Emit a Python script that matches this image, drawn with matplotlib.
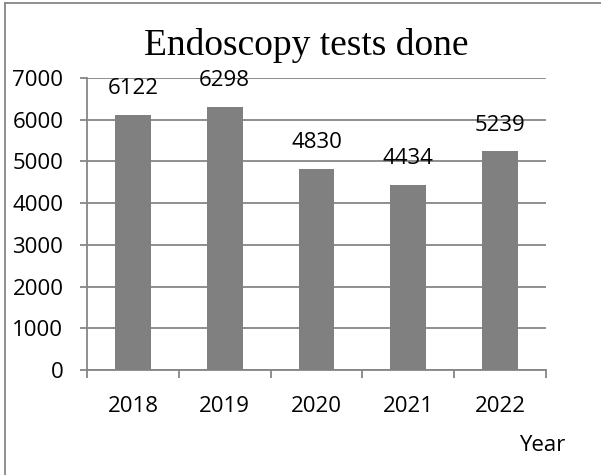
import numpy as np
import matplotlib.pyplot as plt
from matplotlib.lines import Line2D

years = ['2018', '2019', '2020', '2021', '2022']
tests = [6122, 6298, 4830, 4434, 5239]
yticks = [0, 1000, 2000, 3000, 4000, 5000, 6000, 7000]

grey = '#868686'
plt.rcParams['font.family'] = ['Open Sans', 'DejaVu Sans']

fig = plt.figure(figsize=(6.01, 4.75), dpi=100)
ax = fig.add_axes([0.1448, 0.2211, 0.7637, 0.6147])

x = np.arange(len(years))
ax.bar(x, tests, width=0.39, color='#808080', zorder=3)

for xi, v in zip(x, tests):
    ax.annotate(str(v), (xi, v), xytext=(0, 19), textcoords='offset points',
                ha='center', va='center', fontsize=16)

ax.set_xlim(-0.5, len(years) - 0.5)
ax.set_ylim(0, 7000)
ax.set_yticks(yticks)
ax.set_yticklabels([str(t) for t in yticks], fontsize=16)
ax.set_xticks(x)
ax.set_xticklabels(years, fontsize=16)
ax.set_xticks(np.arange(-0.5, len(years)), minor=True)
ax.tick_params(axis='x', which='major', length=0, pad=19)
ax.tick_params(axis='x', which='minor', length=6, width=1.3, color=grey)
ax.tick_params(axis='y', length=5, width=1.3, color=grey, pad=12)
ax.grid(axis='y', color=grey, linewidth=1.3, zorder=0)

for s in ['top', 'right']:
    ax.spines[s].set_visible(False)
for s in ['left', 'bottom']:
    ax.spines[s].set_color(grey)
    ax.spines[s].set_linewidth(1.3)

fig.text(0.509, 0.905, 'Endoscopy tests done', ha='center', va='center',
         fontsize=27, family='Liberation Serif')
fig.text(0.903, 0.063, 'Year', ha='center', va='center', fontsize=16)

# outer frame, only left and top edges show in the crop
fig.add_artist(Line2D([0.008, 0.008], [0, 0.994], transform=fig.transFigure,
                      color=grey, linewidth=1.3))
fig.add_artist(Line2D([0.008, 1], [0.994, 0.994], transform=fig.transFigure,
                      color=grey, linewidth=1.3))

fig.savefig('out.png', dpi=100)
